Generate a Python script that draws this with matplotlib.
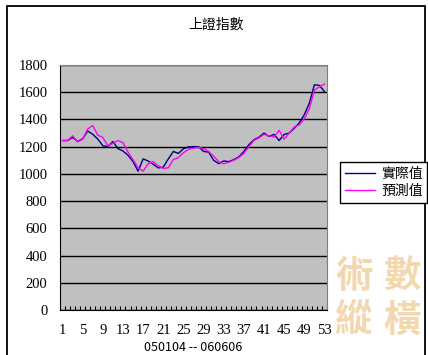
import numpy as np
import matplotlib
matplotlib.use('Agg')
import matplotlib.pyplot as plt
from matplotlib.patches import Rectangle

plt.rcParams['font.family'] = ['Noto Sans CJK TC', 'DejaVu Sans']

# weekly index values, 050104 -- 060606
weeks = np.arange(1, 54)
actual = [1245, 1245, 1268, 1238, 1258, 1315, 1291, 1256, 1207, 1200,
          1238, 1186, 1168, 1137, 1090, 1020, 1110, 1095, 1071, 1044,
          1050, 1110, 1165, 1150, 1185, 1198, 1200, 1200, 1165, 1160,
          1100, 1075, 1095, 1090, 1105, 1125, 1165, 1215, 1250, 1270,
          1300, 1275, 1290, 1245, 1290, 1300, 1335, 1375, 1435, 1520,
          1655, 1650, 1605]
predicted = [1245, 1245, 1280, 1235, 1255, 1330, 1355, 1285, 1268, 1205,
             1225, 1245, 1230, 1160, 1105, 1045, 1020, 1075, 1090, 1060,
             1040, 1045, 1105, 1120, 1155, 1180, 1190, 1195, 1185, 1165,
             1130, 1090, 1075, 1085, 1100, 1120, 1150, 1200, 1245, 1265,
             1290, 1280, 1270, 1320, 1255, 1300, 1345, 1360, 1405, 1480,
             1615, 1640, 1660]
label_actual = '實際值'
label_pred = '預測值'

W, H = 428, 355
fig = plt.figure(figsize=(W / 100, H / 100), dpi=100)
ax = fig.add_axes([60 / W, 1 - 310 / H, 267 / W, 245 / H])
ax.set_facecolor('#C0C0C0')

l1, = ax.plot(weeks, actual, color='#000080', lw=1)
l2, = ax.plot(weeks, predicted, color='#FF00FF', lw=1)

ax.set_xlim(0.5, 53.5)
ax.set_ylim(0, 1800)
ax.set_yticks(range(0, 1801, 200))
ax.yaxis.grid(True, color='black', lw=1)
ax.set_axisbelow(True)
ax.set_xticks(weeks[::4])
ax.set_xticks(np.arange(0.5, 54, 1), minor=True)
ax.tick_params(axis='x', which='major', length=0, pad=10)
ax.tick_params(axis='x', which='minor', direction='in', length=3, width=0.8)
ax.tick_params(axis='y', length=0, pad=9)
for lab in ax.get_xticklabels() + ax.get_yticklabels():
    lab.set_family('Liberation Serif')
    lab.set_fontsize(10.5)
for s in ['top', 'right']:
    ax.spines[s].set_color('#808080')
for s in ['left', 'bottom']:
    ax.spines[s].set_color('black')

ax.set_xlabel('050104 -- 060606', fontsize=9, labelpad=3)
fig.text(216 / W, 1 - 25 / H, '上證指數', ha='center', va='center', fontsize=10)

leg = fig.legend([l1, l2], [label_actual, label_pred], loc='upper left',
                 bbox_to_anchor=(340 / W, 1 - 162 / H), fontsize=10,
                 fancybox=False, framealpha=1, edgecolor='black',
                 borderaxespad=0, handlelength=2.2, borderpad=0.35,
                 labelspacing=0.25, handletextpad=0.4)
leg.get_frame().set_linewidth(1)

# watermark
wm = '#EEC88E'
for ch, x, y in [('術', 354, 276), ('數', 402, 276), ('縱', 354, 320), ('橫', 402, 320)]:
    fig.text(x / W, 1 - y / H, ch, ha='center', va='center', fontsize=27,
             color=wm, alpha=0.7, fontweight='bold')

fig.patches.append(Rectangle((7 / W, -0.05), 418 / W, 1.05 - 6 / H, fill=False,
                             edgecolor='black', lw=1.3, transform=fig.transFigure))

fig.savefig('out.png', dpi=100)
